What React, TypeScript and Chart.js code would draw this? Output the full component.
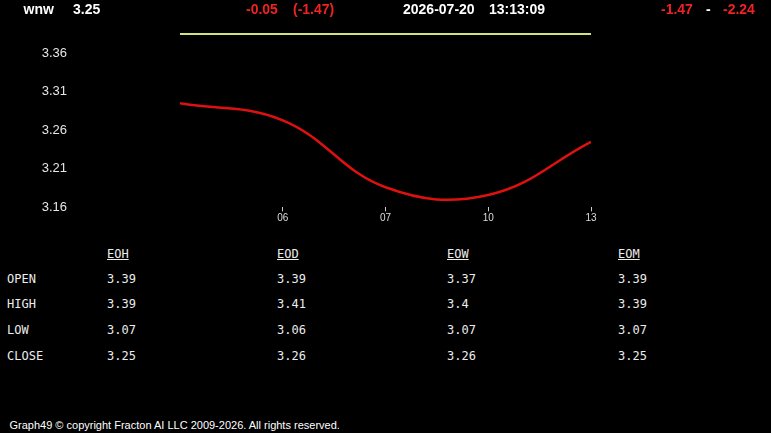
import React, { useEffect, useRef } from "react";
import { Chart, registerables } from "chart.js";

Chart.register(...registerables);

// ---- data ----
const xPositions = [0, 1, 2, 3, 4];
const closeValues = [3.295, 3.273, 3.186, 3.176, 3.245];
const refLineValue = 3.385;
const xTickValues = [1, 2, 3, 4];
const xTickLabels = ["06", "07", "10", "13"];
const yTickValues = [3.16, 3.21, 3.26, 3.31, 3.36];
const yMin = 3.16;
const yMax = 3.4;

const headerSymbol = "wnw";
const headerLast = "3.25";
const headerChange = "-0.05";
const headerChangePct = "(-1.47)";
const headerDate = "2026-07-20";
const headerTime = "13:13:09";
const rangeLow = "-1.47";
const rangeHigh = "-2.24";

const tableColumns = ["EOH", "EOD", "EOW", "EOM"];
const tableRows = ["OPEN", "HIGH", "LOW", "CLOSE"];
const eohValues = ["3.39", "3.39", "3.07", "3.25"];
const eodValues = ["3.39", "3.41", "3.06", "3.26"];
const eowValues = ["3.37", "3.4", "3.07", "3.26"];
const eomValues = ["3.39", "3.39", "3.07", "3.25"];
const tableValues = [eohValues, eodValues, eowValues, eomValues];

const footerText = "Graph49 \u00a9 copyright Fracton AI LLC 2009-2026. All rights reserved.";

const SANS = 'Arial, "Liberation Sans", sans-serif';
const MONO = '"DejaVu Sans Mono", monospace';
const RED = "#f02222";

const colX = [107, 277, 447, 618];
const rowY = [278.5, 304, 330, 356];

export default function App() {
  const canvasRef = useRef<HTMLCanvasElement | null>(null);

  useEffect(() => {
    if (!canvasRef.current) return;
    const chart = new Chart(canvasRef.current, {
      type: "line",
      data: {
        datasets: [
          {
            data: xPositions.map((x, i) => ({ x, y: closeValues[i] })),
            borderColor: "#e01010",
            borderWidth: 2.5,
            pointRadius: 0,
            tension: 0.4,
            fill: false,
          },
          {
            data: [
              { x: xPositions[0], y: refLineValue },
              { x: xPositions[xPositions.length - 1], y: refLineValue },
            ],
            borderColor: "#d4e27c",
            borderWidth: 2,
            pointRadius: 0,
            fill: false,
          },
        ],
      },
      options: {
        animation: false,
        responsive: false,
        maintainAspectRatio: false,
        layout: { padding: { top: 22.5, right: 180, left: 0, bottom: 0 } },
        plugins: { legend: { display: false }, tooltip: { enabled: false } },
        scales: {
          x: {
            type: "linear",
            min: 0,
            max: 4,
            afterBuildTicks: (s: any) => {
              s.ticks = xTickValues.map((v) => ({ value: v }));
            },
            afterFit: (s: any) => {
              s.height = 22.7;
            },
            ticks: {
              callback: (v: any) => {
                const i = xTickValues.indexOf(Number(v));
                return i >= 0 ? xTickLabels[i] : "";
              },
              color: "#dddddd",
              font: { family: SANS, size: 10 },
              padding: 1,
              maxRotation: 0,
              autoSkip: false,
            },
            grid: { drawOnChartArea: false, drawTicks: true, tickLength: 4, color: "#cccccc", lineWidth: 1 },
            border: { display: false },
          },
          y: {
            min: yMin,
            max: yMax,
            afterBuildTicks: (s: any) => {
              s.ticks = yTickValues.map((v) => ({ value: v }));
            },
            afterFit: (s: any) => {
              s.width = 180;
            },
            ticks: {
              callback: (v: any) => Number(v).toFixed(2),
              color: "#e6e6e6",
              font: { family: SANS, size: 13 },
              padding: 0,
            },
            grid: {
              display: true,
              drawOnChartArea: false,
              drawTicks: true,
              tickLength: 113,
              color: "rgba(0,0,0,0)",
            },
            border: { display: false },
          },
        },
      },
    });
    return () => chart.destroy();
  }, []);

  const abs = (left: number, top: number, extra: any = {}) => ({
    position: "absolute" as const,
    left,
    top,
    whiteSpace: "nowrap" as const,
    ...extra,
  });
  const head = { fontFamily: SANS, fontWeight: "bold", fontSize: 14, lineHeight: "16px" };
  const mono = { fontFamily: MONO, fontSize: 12, lineHeight: "14px", color: "#ececec" };

  return (
    <div style={{ position: "fixed", left: 0, top: 0, width: 771, height: 433, background: "#000", overflow: "hidden" }}>
      <canvas ref={canvasRef} width={771} height={230} style={{ position: "absolute", left: 0, top: 0, width: 771, height: 230 }} />

      <div style={abs(23.5, 1, { ...head, color: "#fff" })}>{headerSymbol}</div>
      <div style={abs(73, 1, { ...head, color: "#fff" })}>{headerLast}</div>
      <div style={abs(246, 1, { ...head, color: RED })}>{headerChange}</div>
      <div style={abs(293, 1, { ...head, color: RED })}>{headerChangePct}</div>
      <div style={abs(403, 1, { ...head, color: "#fff" })}>{headerDate}</div>
      <div style={abs(489, 1, { ...head, color: "#fff" })}>{headerTime}</div>
      <div style={abs(661, 1, { ...head, color: RED })}>{rangeLow}</div>
      <div style={abs(706, 1, { ...head, color: "#fff" })}>-</div>
      <div style={abs(723, 1, { ...head, color: RED })}>{rangeHigh}</div>

      {tableColumns.map((c, ci) => (
        <div key={c} style={abs(colX[ci], 247, { ...mono, textDecoration: "underline" })}>{c}</div>
      ))}
      {tableRows.map((r, ri) => (
        <React.Fragment key={r}>
          <div style={abs(7, rowY[ri] - 7, mono)}>{r}</div>
          {tableValues.map((vals, ci) => (
            <div key={ci} style={abs(colX[ci], rowY[ri] - 7, mono)}>{vals[ri]}</div>
          ))}
        </React.Fragment>
      ))}

      <div style={abs(9.5, 419, { fontFamily: SANS, fontSize: 11, lineHeight: "13px", color: "#fff" })}>{footerText}</div>
    </div>
  );
}
